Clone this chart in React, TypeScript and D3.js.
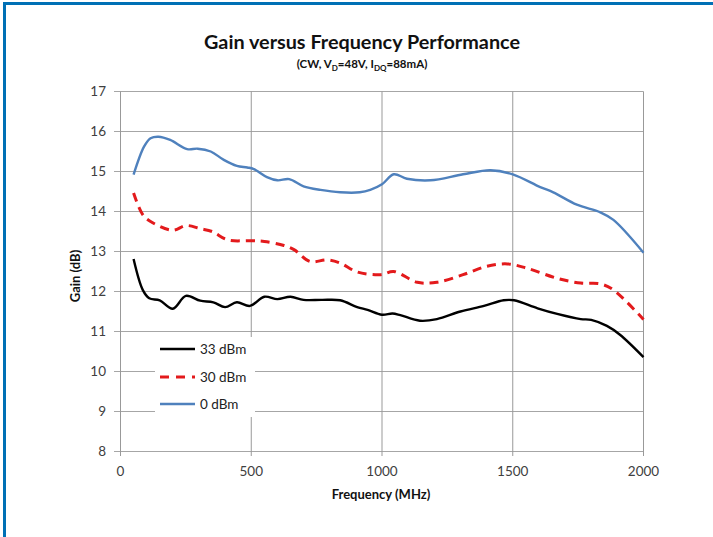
import React from "react";
import * as d3 from "d3";

const xTicks = [0, 500, 1000, 1500, 2000];
const yTicks = [8, 9, 10, 11, 12, 13, 14, 15, 16, 17];

const freq33 = [50, 85, 110, 150, 200, 250, 305, 355, 400, 445, 495, 550, 600, 650, 700, 770, 840, 905, 945, 1000, 1040, 1070, 1145, 1210, 1300, 1390, 1465, 1505, 1595, 1670, 1760, 1800, 1860, 1910, 2000];
const gain33 = [12.81, 12.04, 11.83, 11.78, 11.57, 11.89, 11.77, 11.73, 11.61, 11.73, 11.64, 11.87, 11.81, 11.87, 11.79, 11.79, 11.78, 11.61, 11.54, 11.42, 11.45, 11.41, 11.27, 11.31, 11.5, 11.64, 11.78, 11.78, 11.58, 11.44, 11.31, 11.29, 11.14, 10.92, 10.36];

const freq30 = [50, 85, 115, 200, 250, 305, 350, 410, 500, 550, 625, 665, 725, 790, 840, 905, 995, 1045, 1135, 1210, 1310, 1400, 1480, 1555, 1670, 1760, 1835, 1885, 2000];
const gain30 = [14.46, 13.92, 13.75, 13.53, 13.65, 13.57, 13.5, 13.29, 13.27, 13.25, 13.15, 13.04, 12.75, 12.79, 12.71, 12.49, 12.42, 12.5, 12.23, 12.23, 12.42, 12.63, 12.69, 12.58, 12.33, 12.21, 12.19, 12.04, 11.3];

const freq0 = [50, 90, 115, 145, 190, 255, 295, 345, 395, 445, 485, 510, 560, 600, 645, 700, 765, 840, 915, 955, 1000, 1045, 1095, 1185, 1310, 1415, 1500, 1605, 1655, 1745, 1835, 1885, 2000];
const gain0 = [14.92, 15.62, 15.83, 15.87, 15.79, 15.56, 15.57, 15.5, 15.29, 15.14, 15.1, 15.06, 14.86, 14.78, 14.81, 14.63, 14.54, 14.48, 14.48, 14.54, 14.68, 14.93, 14.82, 14.78, 14.93, 15.03, 14.93, 14.61, 14.48, 14.17, 13.98, 13.79, 12.97];

const seriesNames = ["33 dBm", "30 dBm", "0 dBm"];

const FONT = "Lato, 'Open Sans', sans-serif";

export default function App() {
  const x = d3.scaleLinear().domain([0, 2000]).range([120.5, 643.5]);
  const y = d3.scaleLinear().domain([8, 17]).range([451.5, 91.5]);

  const line = d3
    .line<[number, number]>()
    .x((d) => x(d[0]))
    .y((d) => y(d[1]))
    .curve(d3.curveCatmullRom.alpha(0.5));

  const zip = (f: number[], g: number[]) => f.map((v, i) => [v, g[i]] as [number, number]);

  const series = [
    { name: seriesNames[0], pts: zip(freq33, gain33), color: "#000000", width: 2.4, dash: undefined as string | undefined },
    { name: seriesNames[1], pts: zip(freq30, gain30), color: "#E31A1C", width: 3, dash: "9,6" },
    { name: seriesNames[2], pts: zip(freq0, gain0), color: "#4F81BD", width: 2.4, dash: undefined as string | undefined },
  ];

  const legendY = [349, 377, 404];

  return (
    <svg
      width={713}
      height={537}
      style={{ position: "absolute", left: 0, top: 0, background: "#fff" }}
      fontFamily={FONT}
    >
      <rect x={0} y={0} width={713} height={537} fill="#fff" />
      {/* blue frame */}
      <rect x={3} y={2} width={710} height={3} fill="#0070B5" />
      <rect x={3} y={2} width={3} height={535} fill="#0070B5" />

      {/* title */}
      <text x={362} y={49} textAnchor="middle" fontSize={19} fontWeight="bold" fill="#111" textLength={316} lengthAdjust="spacingAndGlyphs">
        Gain versus Frequency Performance
      </text>
      <text x={362} y={68} textAnchor="middle" fontSize={11.5} fontWeight="bold" fill="#111">
        (CW, V<tspan fontSize={8} dy={2.5}>D</tspan>
        <tspan dy={-2.5}>=48V, I</tspan>
        <tspan fontSize={8} dy={2.5}>DQ</tspan>
        <tspan dy={-2.5}>=88mA)</tspan>
      </text>

      {/* horizontal grid */}
      {yTicks.map((t) => (
        <g key={"h" + t}>
          <line x1={114} x2={643.5} y1={y(t)} y2={y(t)} stroke="#A6A6A6" strokeWidth={1} />
          <text x={106} y={y(t) + 4.5} textAnchor="end" fontSize={13.5} fill="#404040">
            {t}
          </text>
        </g>
      ))}
      {/* vertical grid */}
      {xTicks.map((t) => (
        <g key={"v" + t}>
          <line x1={x(t)} x2={x(t)} y1={91.5} y2={456} stroke="#999" strokeWidth={1} />
          <text x={x(t)} y={476} textAnchor="middle" fontSize={13.5} fill="#404040">
            {t}
          </text>
        </g>
      ))}

      {/* axis titles */}
      <text x={381} y={499} textAnchor="middle" fontSize={13} fontWeight="bold" fill="#111">
        Frequency (MHz)
      </text>
      <text
        transform={`translate(80,276) rotate(-90)`}
        textAnchor="middle"
        fontSize={13}
        fontWeight="bold"
        fill="#111"
      >
        Gain (dB)
      </text>

      {/* series */}
      {series.map((s) => (
        <path
          key={s.name}
          d={line(s.pts) || ""}
          fill="none"
          stroke={s.color}
          strokeWidth={s.width}
          strokeDasharray={s.dash}
          strokeLinejoin="round"
        />
      ))}

      {/* legend */}
      <rect x={155} y={337} width={100} height={80} fill="#fff" />
      {series.map((s, i) => (
        <g key={"l" + s.name}>
          <line
            x1={160}
            x2={195}
            y1={legendY[i]}
            y2={legendY[i]}
            stroke={s.color}
            strokeWidth={s.width}
            strokeDasharray={s.dash ? "9,7" : undefined}
          />
          <text x={200} y={legendY[i] + 5} fontSize={13.5} fill="#222">
            {s.name}
          </text>
        </g>
      ))}
    </svg>
  );
}
